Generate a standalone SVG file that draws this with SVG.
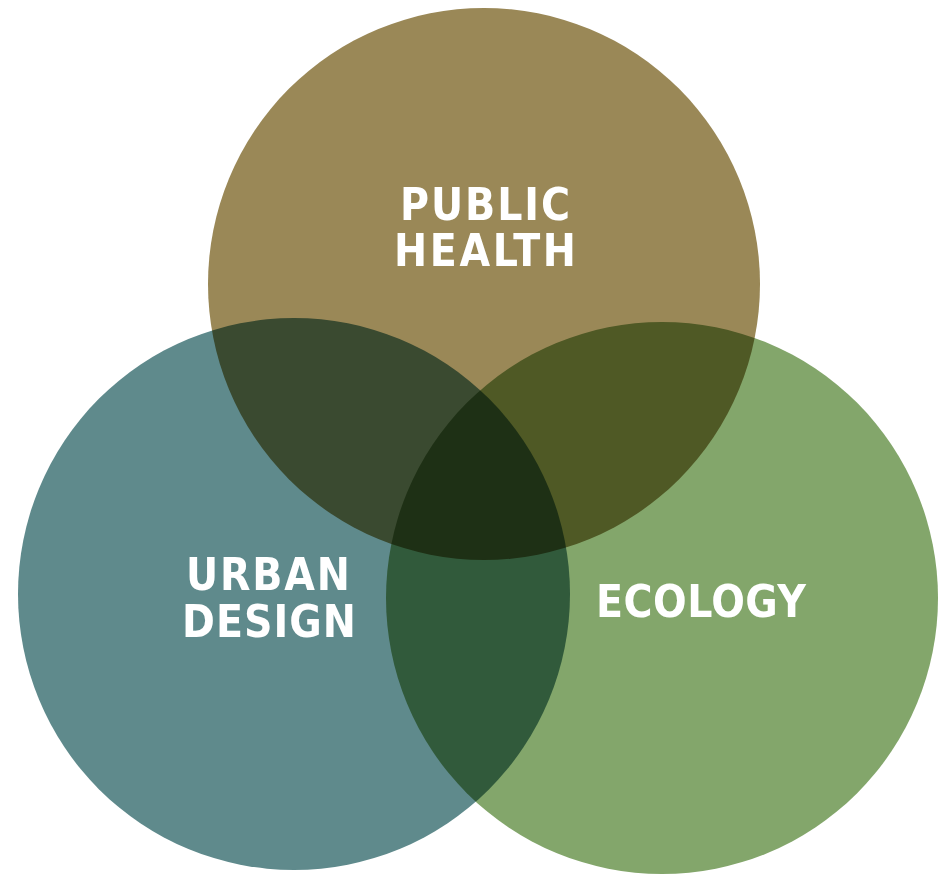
<svg xmlns="http://www.w3.org/2000/svg" width="939" height="875" viewBox="0 0 939 875">
  <style>
    .c { mix-blend-mode: multiply; }
    .lbl { fill: #ffffff; font-family: "DejaVu Sans Condensed", "DejaVu Sans", "Liberation Sans", sans-serif; font-stretch: condensed; font-weight: 700; font-size: 44px; text-anchor: middle; }
  </style>
  <rect x="0" y="0" width="939" height="875" fill="#ffffff"/>
  <g style="isolation:isolate">
    <g id="public-health">
      <circle class="c" cx="484" cy="284" r="276" fill="#9A8857"/>
      <text class="lbl" x="485" y="220" textLength="170" lengthAdjust="spacing">PUBLIC</text>
      <text class="lbl" x="485" y="266" textLength="182" lengthAdjust="spacing">HEALTH</text>
    </g>
    <g id="urban-design">
      <circle class="c" cx="294" cy="594" r="276" fill="#5F8A8C"/>
      <text class="lbl" x="268" y="590" textLength="164" lengthAdjust="spacing">URBAN</text>
      <text class="lbl" x="269" y="637" textLength="174" lengthAdjust="spacing">DESIGN</text>
    </g>
    <g id="ecology">
      <circle class="c" cx="662" cy="598" r="276" fill="#83A66B"/>
      <text class="lbl" x="701" y="617" textLength="210" lengthAdjust="spacing">ECOLOGY</text>
    </g>
    <g id="connectors"/>
  </g>
</svg>
